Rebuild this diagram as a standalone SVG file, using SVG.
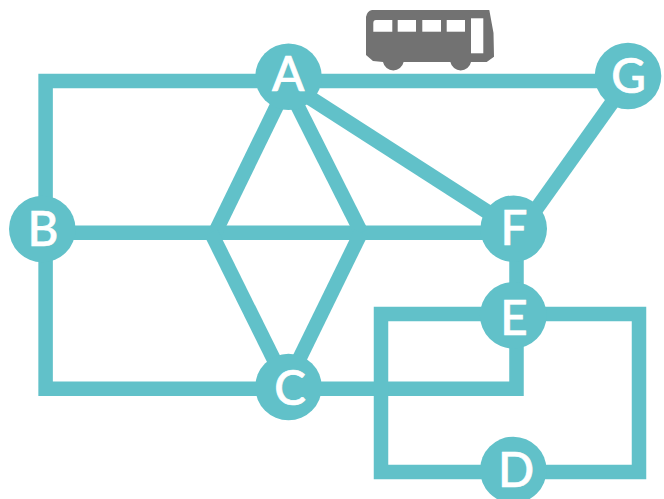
<svg xmlns="http://www.w3.org/2000/svg" width="664" height="499" viewBox="0 0 664 499">
<style>
.c{fill:none;stroke:#61c1c9;stroke-width:14.5;stroke-linejoin:miter}
.n{fill:#61c1c9}
.t{fill:#fff;font-family:Lato,"Open Sans",sans-serif;font-weight:500;font-size:47.500px;text-anchor:middle;stroke:#fff;stroke-width:.7}
.w{fill:#fff}
</style>
<rect width="664" height="499" fill="#fff"/>
<g id="bus">
<path fill="#727272" d="M366 17Q367 11 372 10L489.300 10L493.500 33L494 56.700L486.700 62L471 62A10.500 10.500 0 0 1 450.400 62L403.600 62A10.500 10.500 0 0 1 383 62L373 61L366 55Z"/>
<path class="w" d="M376 20H392.300V31.700H373.300V23Q373.300 20 376 20Z"/>
<rect class="w" x="397.700" y="20" width="18.300" height="11.700"/>
<rect class="w" x="422.300" y="20" width="18.700" height="11.700"/>
<rect class="w" x="446.700" y="20" width="18.300" height="11.700"/>
<rect class="w" x="471" y="18.300" width="12.300" height="35"/>
</g>
<g id="connectors">
<path class="c" d="M288.500 81H45.600V388.700H288"/>
<path class="c" d="M288.500 81H628"/>
<path class="c" d="M42 232.700H514"/>
<path class="c" d="M287 85L215 232.700"/>
<path class="c" d="M287 85L361.400 232.700"/>
<path class="c" d="M211 232.700L286.500 385"/>
<path class="c" d="M361 232.700L286.500 385"/>
<path class="c" style="stroke-width:15" d="M288.500 84L513.700 228.700"/>
<path class="c" d="M631 76L522 229"/>
<path class="c" d="M516.500 228.700V388.700H288"/>
<path class="c" d="M513 314H639V472H381V314Z"/>
</g>
<g id="node-a"><circle class="n" cx="288.500" cy="76.700" r="33.300"/><text class="t" x="288.300" y="90.700">A</text></g>
<g id="node-b"><circle class="n" cx="42.300" cy="229" r="33.300"/><text class="t" x="43" y="245.500">B</text></g>
<g id="node-c"><circle class="n" cx="288.500" cy="387" r="33.300"/><text class="t" x="290" y="405">C</text></g>
<g id="node-d"><circle class="n" cx="513.300" cy="470" r="33.300"/><text class="t" x="516" y="486.700">D</text></g>
<g id="node-e"><circle class="n" cx="513.300" cy="315.300" r="33.300"/><text class="t" x="514" y="335">E</text></g>
<g id="node-f"><circle class="n" cx="513.700" cy="228.700" r="33.300"/><text class="t" x="514" y="245">F</text></g>
<g id="node-g"><circle class="n" cx="628" cy="76" r="33.300"/><text class="t" x="628.500" y="93">G</text></g>
</svg>
